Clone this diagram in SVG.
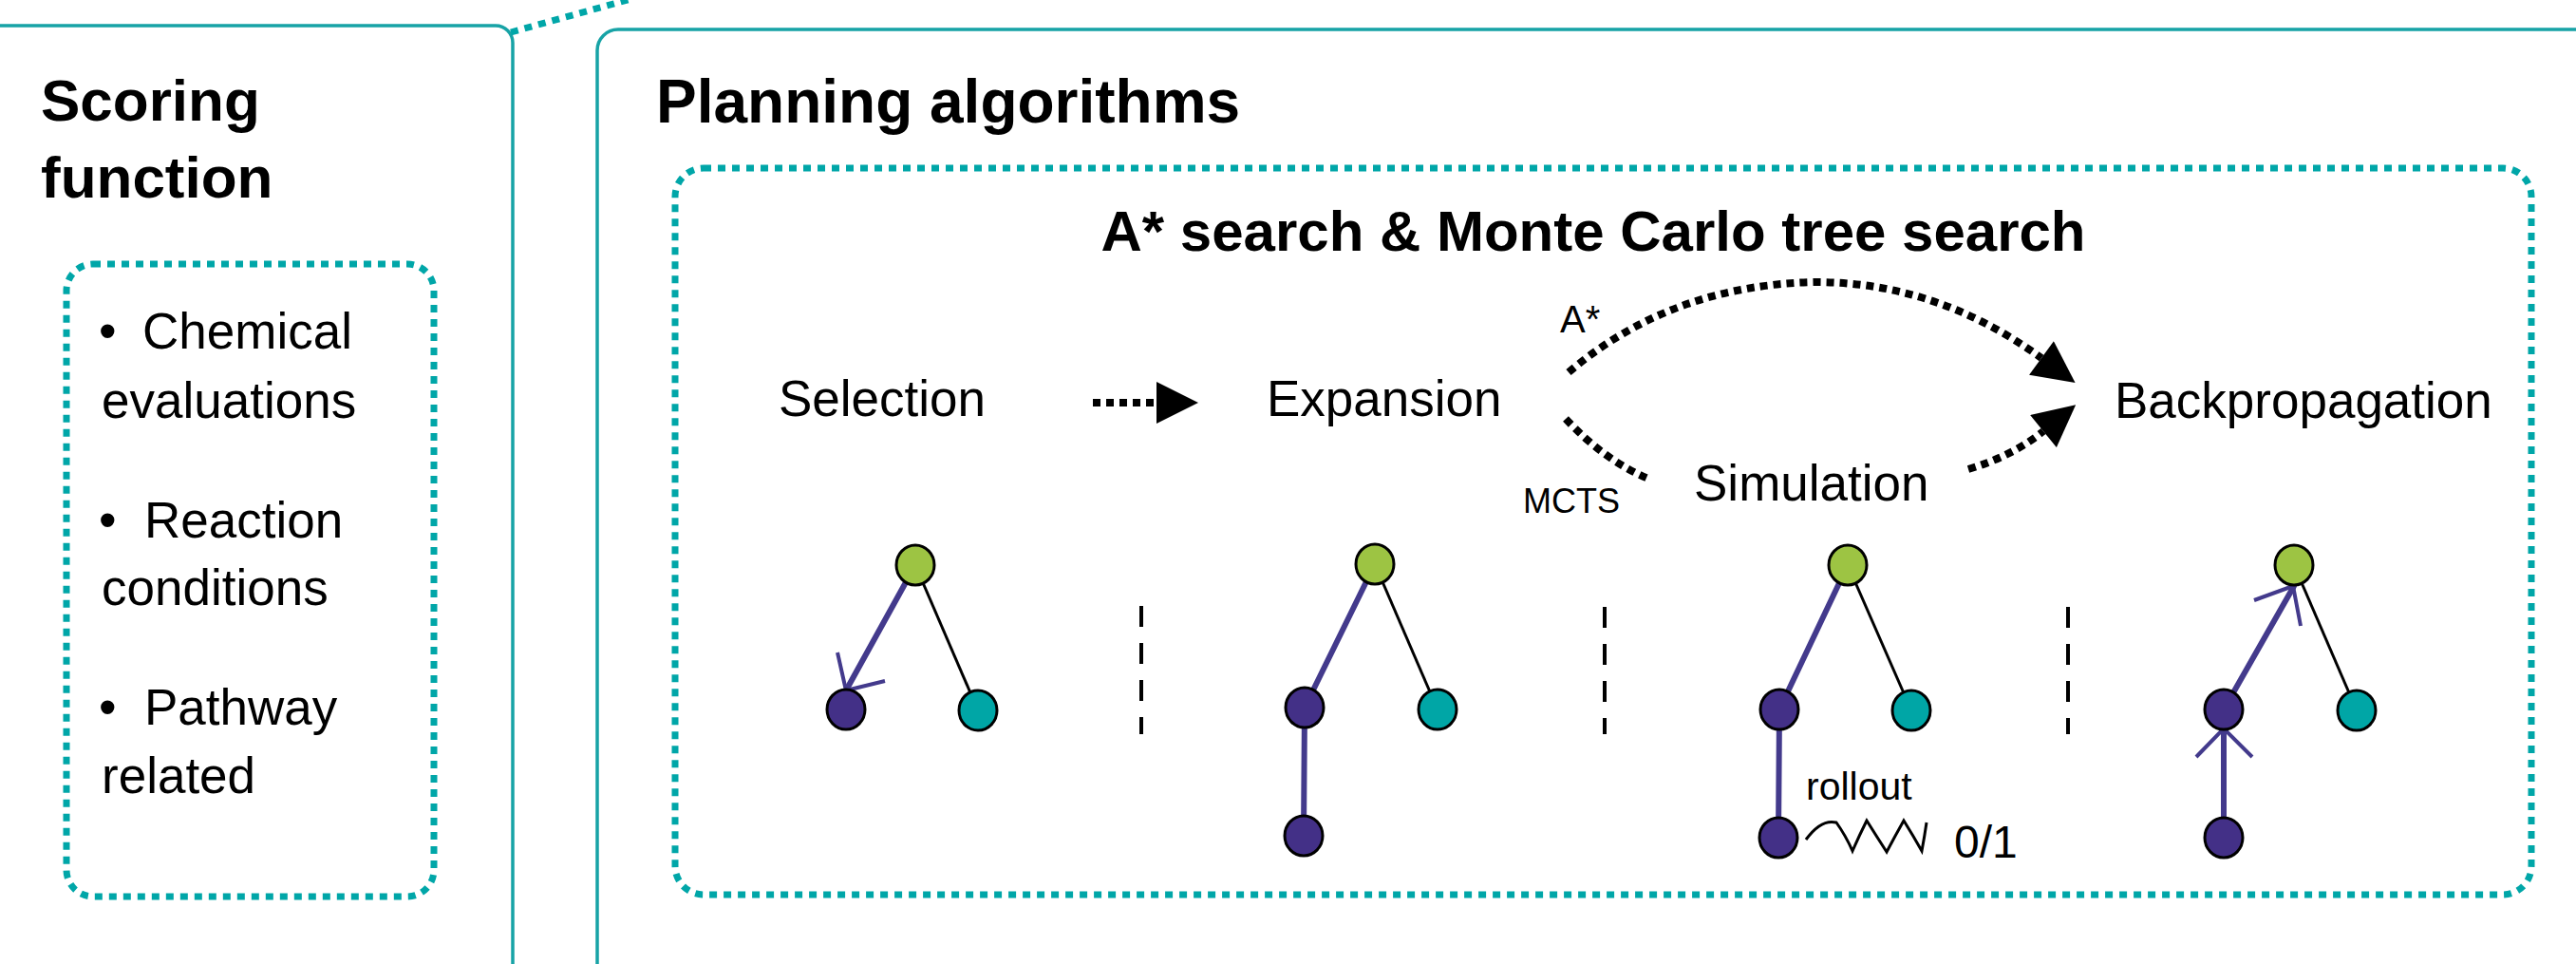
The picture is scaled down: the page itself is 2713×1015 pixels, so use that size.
<svg xmlns="http://www.w3.org/2000/svg" width="2713" height="1015" viewBox="0 0 2713 1015">
<defs>
<style>
text{font-family:"Liberation Sans",Arial,sans-serif;fill:#000}
.h{font-weight:bold}
.b{font-size:53px}
.lab{font-size:53px}
.box{fill:none;stroke:#17a3a6;stroke-width:3.5}
.dot{fill:none;stroke:#00a6a8;stroke-width:7;stroke-dasharray:8 7}
.flow{fill:none;stroke:#000;stroke-width:8;stroke-dasharray:8 6}
.pe{stroke:#433a8c;stroke-width:6;fill:none;stroke-linecap:round}
.pa{stroke:#433a8c;stroke-width:4;fill:none}
.be{stroke:#000;stroke-width:3;fill:none}
.sep{stroke:#000;stroke-width:4;stroke-dasharray:22 17}
.g{fill:#9dc443;stroke:#000;stroke-width:3}
.p{fill:#433087;stroke:#000;stroke-width:3}
.t{fill:#00a6a6;stroke:#000;stroke-width:3}
</style>
<marker id="ah" viewBox="0 0 10 10" refX="0" refY="5" markerWidth="45" markerHeight="44" markerUnits="userSpaceOnUse" orient="auto">
<path d="M0,0 L10,5 L0,10 z" fill="#000"/>
</marker>
</defs>
<rect width="2713" height="1015" fill="#fff"/>

<g id="scoring-panel">
<rect class="box" x="-30" y="27" width="570" height="1100" rx="18"/>
<text class="h" x="43" y="127" font-size="62">Scoring</text>
<text class="h" x="43" y="208" font-size="62">function</text>
<rect class="dot" x="70" y="278" width="387" height="666" rx="28"/>
<text class="b"><tspan x="104" y="367">•</tspan><tspan x="150" y="367">Chemical</tspan></text>
<text class="b" x="107" y="440">evaluations</text>
<text class="b"><tspan x="104" y="566">•</tspan><tspan x="152" y="566">Reaction</tspan></text>
<text class="b" x="107" y="637">conditions</text>
<text class="b"><tspan x="104" y="763">•</tspan><tspan x="152" y="763">Pathway</tspan></text>
<text class="b" x="107" y="835">related</text>
</g>

<g id="planning-panel">
<rect class="box" x="629" y="31" width="2200" height="1100" rx="22"/>
<text class="h" x="691" y="129" font-size="64">Planning algorithms</text>
<rect class="dot" x="711" y="177" width="1955" height="765" rx="30"/>
<text class="h" x="1678" y="264" font-size="60" text-anchor="middle">A* search &amp; Monte Carlo tree search</text>
</g>

<g id="labels">
<text class="lab" x="820" y="438">Selection</text>
<text class="lab" x="1334" y="438">Expansion</text>
<text class="lab" x="1784" y="527">Simulation</text>
<text class="lab" x="2227" y="440">Backpropagation</text>
<text x="1643" y="350" font-size="40">A*</text>
<text x="1604" y="540" font-size="36">MCTS</text>
<text x="1902" y="842" font-size="41">rollout</text>
<text x="2058" y="903" font-size="48">0/1</text>
</g>

<g id="connectors">
<line x1="538" y1="34" x2="668" y2="-2" class="dot" stroke-width="5"/>
<line class="flow" x1="1151" y1="424" x2="1218" y2="424" marker-end="url(#ah)"/>
<path class="flow" d="M1652,392 Q1760,300 1912,297 Q2040,297 2150,377" marker-end="url(#ah)"/>
<path class="flow" d="M1649,441 Q1690,485 1736,504"/>
<path class="flow" d="M2073,494 Q2120,480 2152,454" marker-end="url(#ah)"/>
<line class="sep" x1="1202" y1="638" x2="1202" y2="773"/>
<line class="sep" x1="1690" y1="639" x2="1690" y2="773"/>
<line class="sep" x1="2178" y1="639" x2="2178" y2="773"/>
<!-- tree 1 -->
<line class="be" x1="964" y1="595" x2="1030" y2="748"/>
<line class="pe" x1="964" y1="595" x2="891" y2="727"/>
<polyline class="pa" points="882,687 891,727 932,717"/>
<!-- tree 2 -->
<line class="be" x1="1448" y1="594" x2="1514" y2="747"/>
<line class="pe" x1="1448" y1="594" x2="1374" y2="745"/>
<line class="pe" x1="1374" y1="745" x2="1373" y2="880"/>
<!-- tree 3 -->
<line class="be" x1="1946" y1="595" x2="2013" y2="748"/>
<line class="pe" x1="1946" y1="595" x2="1874" y2="747"/>
<line class="pe" x1="1874" y1="747" x2="1873" y2="882"/>
<path d="M1902,884 Q1918,862 1934,866 Q1944,880 1951,896 Q1958,880 1966,864 Q1976,880 1987,897 Q1996,880 2005,864 Q2015,880 2024,896 Q2027,880 2029,866" fill="none" stroke="#000" stroke-width="3"/>
<!-- tree 4 -->
<line class="be" x1="2416" y1="595" x2="2482" y2="748"/>
<line class="pe" x1="2416" y1="617" x2="2342" y2="747"/>
<line class="pe" x1="2342" y1="767" x2="2342" y2="882"/>
<polyline class="pa" points="2374,632 2415,617 2423,659"/>
<polyline class="pa" points="2313,797 2342,767 2372,797"/>
</g>

<g id="tree1">
<g id="t1-root"><ellipse class="g" cx="964" cy="595" rx="20" ry="21"/></g>
<g id="t1-left"><ellipse class="p" cx="891" cy="747" rx="20" ry="21"/></g>
<g id="t1-right"><ellipse class="t" cx="1030" cy="748" rx="20" ry="21"/></g>
</g>
<g id="tree2">
<g id="t2-root"><ellipse class="g" cx="1448" cy="594" rx="20" ry="21"/></g>
<g id="t2-left"><ellipse class="p" cx="1374" cy="745" rx="20" ry="21"/></g>
<g id="t2-right"><ellipse class="t" cx="1514" cy="747" rx="20" ry="21"/></g>
<g id="t2-bottom"><ellipse class="p" cx="1373" cy="880" rx="20" ry="21"/></g>
</g>
<g id="tree3">
<g id="t3-root"><ellipse class="g" cx="1946" cy="595" rx="20" ry="21"/></g>
<g id="t3-left"><ellipse class="p" cx="1874" cy="747" rx="20" ry="21"/></g>
<g id="t3-right"><ellipse class="t" cx="2013" cy="748" rx="20" ry="21"/></g>
<g id="t3-bottom"><ellipse class="p" cx="1873" cy="882" rx="20" ry="21"/></g>
</g>
<g id="tree4">
<g id="t4-root"><ellipse class="g" cx="2416" cy="595" rx="20" ry="21"/></g>
<g id="t4-left"><ellipse class="p" cx="2342" cy="747" rx="20" ry="21"/></g>
<g id="t4-right"><ellipse class="t" cx="2482" cy="748" rx="20" ry="21"/></g>
<g id="t4-bottom"><ellipse class="p" cx="2342" cy="882" rx="20" ry="21"/></g>
</g>
</svg>
